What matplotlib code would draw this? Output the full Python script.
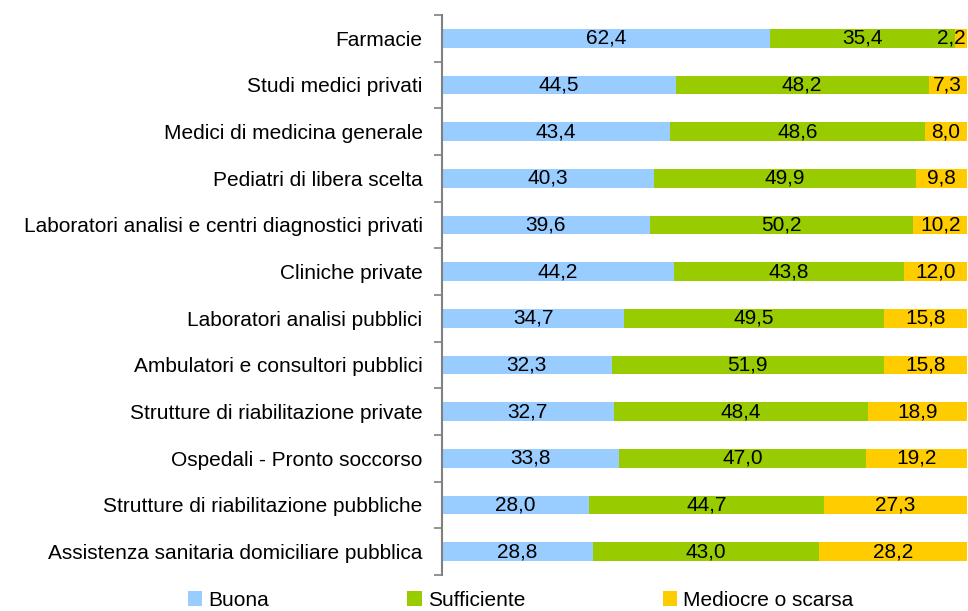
import matplotlib.pyplot as plt
import numpy as np

plt.rcParams['font.family'] = ['Liberation Sans', 'DejaVu Sans']

categorie = [
    "Farmacie",
    "Studi medici privati",
    "Medici di medicina generale",
    "Pediatri di libera scelta",
    "Laboratori analisi e centri diagnostici privati",
    "Cliniche private",
    "Laboratori analisi pubblici",
    "Ambulatori e consultori pubblici",
    "Strutture di riabilitazione private",
    "Ospedali - Pronto soccorso",
    "Strutture di riabilitazione pubbliche",
    "Assistenza sanitaria domiciliare pubblica",
]
buona = [62.4, 44.5, 43.4, 40.3, 39.6, 44.2, 34.7, 32.3, 32.7, 33.8, 28.0, 28.8]
sufficiente = [35.4, 48.2, 48.6, 49.9, 50.2, 43.8, 49.5, 51.9, 48.4, 47.0, 44.7, 43.0]
mediocre = [2.2, 7.3, 8.0, 9.8, 10.2, 12.0, 15.8, 15.8, 18.9, 19.2, 27.3, 28.2]

serie = [("Buona", buona, "#99CCFF"),
         ("Sufficiente", sufficiente, "#99CC00"),
         ("Mediocre o scarsa", mediocre, "#FFCC00")]

FS = 15

fig = plt.figure(figsize=(9.68, 6.11), dpi=100)
ax = fig.add_axes([442 / 968, 36 / 611, 1 - 442 / 968, 560 / 611])

y = np.arange(len(categorie))
left = np.zeros(len(categorie))
for nome, valori, colore in serie:
    valori = np.array(valori)
    ax.barh(y, valori, left=left, height=0.4, color=colore, label=nome)
    for yi, l, v in zip(y, left, valori):
        etichetta = f"{v:.1f}".replace(".", ",")
        xc = l + v / 2
        if xc > 97:
            # segmento troppo stretto sul bordo: etichetta allineata a destra
            ax.text(99.7, yi, etichetta, ha="right", va="center", fontsize=FS)
        else:
            ax.text(xc, yi, etichetta, ha="center", va="center", fontsize=FS)
    left = left + valori

ax.set_xlim(0, 100.2)
ax.set_ylim(len(categorie) - 0.5, -0.5)

# etichette al centro, tacche ai confini
ax.set_yticks(y)
ax.set_yticklabels(categorie, fontsize=FS)
ax.tick_params(axis="y", which="major", length=0, pad=14)
ax.set_yticks(np.arange(-0.5, len(categorie)), minor=True)
ax.tick_params(axis="y", which="minor", length=6, width=1.2, color="#808080")
ax.set_xticks([])

for s in ["top", "right", "bottom"]:
    ax.spines[s].set_visible(False)
ax.spines["left"].set_color("#808080")
ax.spines["left"].set_linewidth(1.5)

fig.legend(loc="center", bbox_to_anchor=(0.538, 0.018), ncol=3, frameon=False,
           fontsize=FS, handlelength=0.7, handleheight=0.7, handletextpad=0.3,
           columnspacing=6.6)

fig.savefig("out.png", dpi=100)
